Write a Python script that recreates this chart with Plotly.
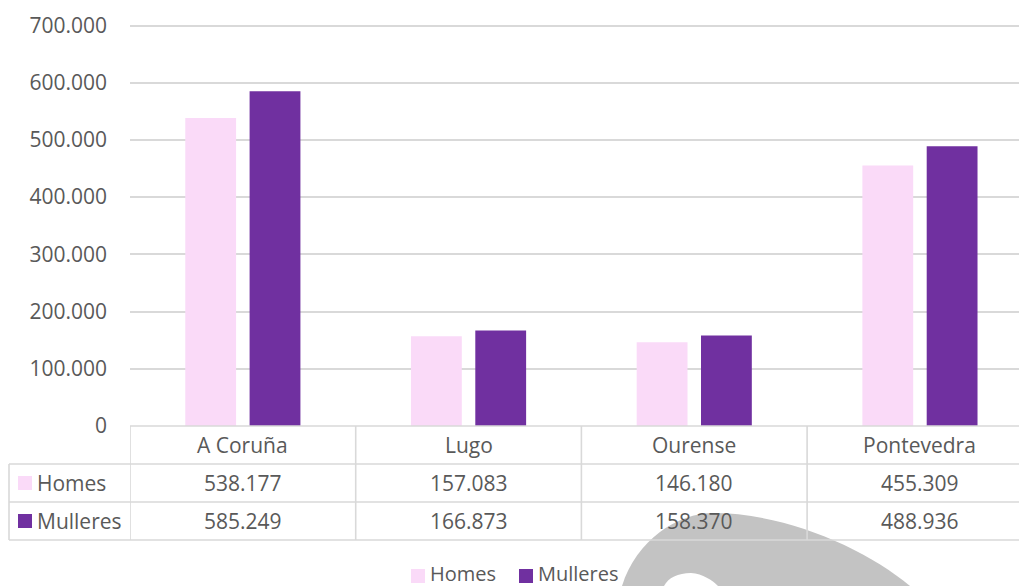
import plotly.graph_objects as go

categories = ["A Coruña", "Lugo", "Ourense", "Pontevedra"]
series_names = ["Homes", "Mulleres"]
homes = [538177, 157083, 146180, 455309]
mulleres = [585249, 166873, 158370, 488936]
y_ticks = [0, 100000, 200000, 300000, 400000, 500000, 600000, 700000]

colors = {"Homes": "#FADAF8", "Mulleres": "#7030A0"}
W, H = 1019, 586
ML, MR, MT, MB = 130, 0, 20, 160
PW, PH = W - ML - MR, H - MT - MB
Y_MAX = 700000 * PH / 400.5
CAT_PX = 225.7
FONT = "Open Sans"
TXT = "#595959"
GRID = "#D9D9D9"
FS = 21


def px(x):
    return (x - ML) / PW


def py(y):
    return (H - MB - y) / PH


def fmt(v):
    return f"{v:,}".replace(",", ".")


fig = go.Figure()
values = {"Homes": homes, "Mulleres": mulleres}
for name in series_names:
    fig.add_trace(go.Bar(x=categories, y=values[name], name=name,
                         marker=dict(color=colors[name], line=dict(width=0)),
                         showlegend=False))

shapes = []
annotations = []

# decorative gray watermark shape
wm = (f"M {px(622)},{py(586)} C {px(636)},{py(540)} {px(678)},{py(513)} {px(713)},{py(513)} "
      f"C {px(785)},{py(513)} {px(865)},{py(548)} {px(910)},{py(586)} Z")
shapes.append(dict(type="path", path=wm, xref="paper", yref="paper",
                   fillcolor="#C3C3C3", line=dict(width=0), layer="above"))
wm2 = (f"M {px(664)},{py(586)} C {px(668)},{py(578)} {px(678)},{py(573)} {px(691)},{py(573)} "
       f"C {px(703)},{py(574)} {px(712)},{py(580)} {px(718)},{py(586)} Z")
shapes.append(dict(type="path", path=wm2, xref="paper", yref="paper",
                   fillcolor="white", line=dict(width=0), layer="above"))

# data table lines
line = dict(color=GRID, width=1.6)
rows_y = [426, 464, 502, 540]
shapes.append(dict(type="line", xref="paper", yref="paper", x0=0, x1=1,
                   y0=py(rows_y[0]), y1=py(rows_y[0]), line=line))
for ry in rows_y[1:]:
    shapes.append(dict(type="line", xref="paper", yref="paper", x0=px(9), x1=1,
                       y0=py(ry), y1=py(ry), line=line))
shapes.append(dict(type="line", xref="paper", yref="paper", x0=px(9), x1=px(9),
                   y0=py(464), y1=py(540), line=line))
for i in range(len(categories) + 1):
    shapes.append(dict(type="line", xref="x", yref="paper", x0=i - 0.5, x1=i - 0.5,
                       y0=py(426), y1=py(540), line=line))

for i, c in enumerate(categories):
    annotations.append(dict(x=i, y=py(445), xref="x", yref="paper", text=c,
                            xanchor="center", yanchor="middle", showarrow=False,
                            font=dict(family=FONT, size=FS, color=TXT)))
    for r, name in enumerate(series_names):
        annotations.append(dict(x=i, y=py(483 + 38 * r), xref="x", yref="paper",
                                text=fmt(values[name][i]), showarrow=False,
                                xanchor="center", yanchor="middle",
                                font=dict(family=FONT, size=FS, color=TXT)))

for r, name in enumerate(series_names):
    cy = 483 + 38 * r
    shapes.append(dict(type="rect", xref="paper", yref="paper", x0=px(18), x1=px(32),
                       y0=py(cy - 7), y1=py(cy + 7), fillcolor=colors[name],
                       line=dict(width=0)))
    annotations.append(dict(x=px(35), y=py(cy), xref="paper", yref="paper", text=name,
                            xanchor="left", yanchor="middle", showarrow=False,
                            font=dict(family=FONT, size=FS, color=TXT)))

# legend
leg_x = [411, 519]
for name, lx in zip(series_names, leg_x):
    shapes.append(dict(type="rect", xref="paper", yref="paper", x0=px(lx), x1=px(lx + 14),
                       y0=py(569), y1=py(583), fillcolor=colors[name], line=dict(width=0)))
    annotations.append(dict(x=px(lx + 17), y=py(573), xref="paper", yref="paper", text=name,
                            xanchor="left", yanchor="middle", showarrow=False,
                            font=dict(family=FONT, size=20, color=TXT)))

fig.update_layout(
    width=W, height=H,
    margin=dict(l=ML, r=MR, t=MT, b=MB, pad=0),
    paper_bgcolor="white", plot_bgcolor="white",
    barmode="group", bargap=0.43, bargroupgap=0.21,
    separators=",.",
    font=dict(family=FONT, size=FS, color=TXT),
    shapes=shapes, annotations=annotations,
    showlegend=False,
    xaxis=dict(range=[-0.5, -0.5 + PW / CAT_PX], showticklabels=False, showgrid=False,
               zeroline=False, showline=False, ticks=""),
    yaxis=dict(range=[0, Y_MAX], tickvals=y_ticks, tickformat=",d",
               showgrid=True, gridcolor=GRID, gridwidth=1.6, zeroline=False,
               showline=False, ticks="", ticklabelstandoff=22,
               tickfont=dict(family=FONT, size=FS, color=TXT)),
)

fig.write_html("out.html", config={"displayModeBar": False})

# remove the default page margin so the figure sits at the window origin
with open("out.html", encoding="utf-8") as f:
    html = f.read()
html = html.replace("<head>", "<head><style>html,body{margin:0;padding:0;overflow:hidden}</style>", 1)
with open("out.html", "w", encoding="utf-8") as f:
    f.write(html)
